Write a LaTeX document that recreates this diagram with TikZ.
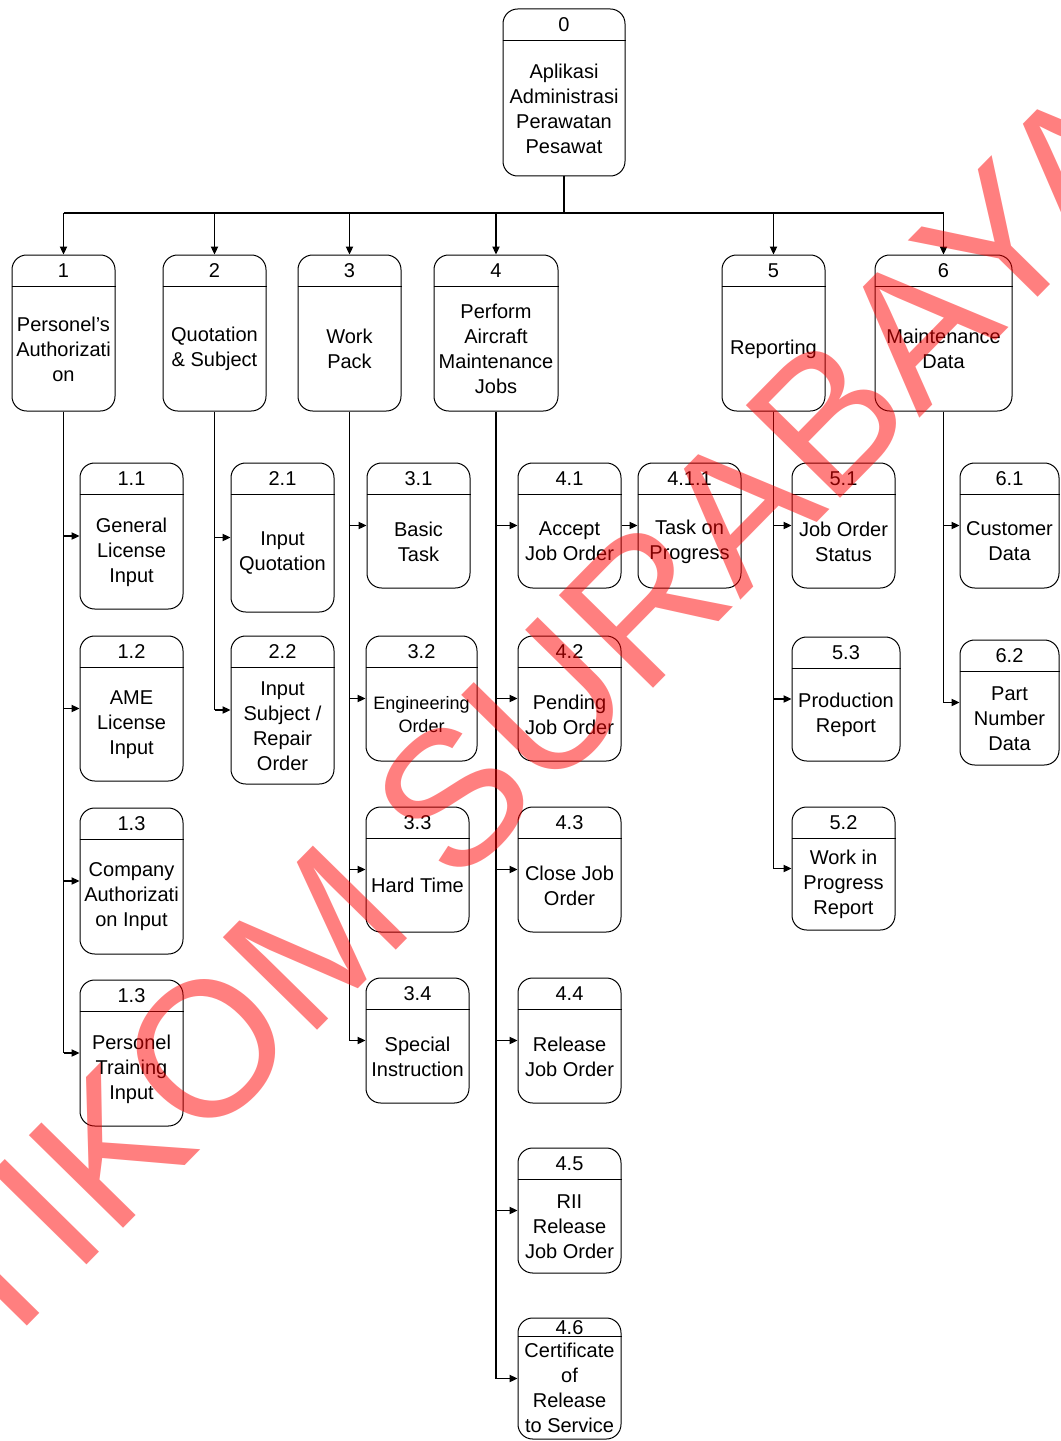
\documentclass[tikz,border=0pt]{standalone}
\usepackage{fontspec}
\setmainfont{Liberation Sans}
\usetikzlibrary{arrows.meta}

% process box: name, x1, y1, x2, y2, header height, number, label, extra label style
\newcommand\pbox[9]{%
  \node[pbx, minimum width={(#4-(#2))*0.75pt}, minimum height={(#5-(#3))*0.75pt}]
    (#1) at ({(#2+#4)/2},{(#3+#5)/2}) {};
  \draw[pbxline] ([yshift={-(#6)*0.75pt}]#1.north west) -- ([yshift={-(#6)*0.75pt}]#1.north east);
  \node[lbl] (#1n) at ({(#2+#4)/2},{#3+(#6)/2}) {#7};
  \node[lbl,#9] (#1t) at ({(#2+#4)/2},{(#3+#6+#5)/2}) {#8};
}

\tikzset{
  pbx/.style={draw, rectangle, rounded corners=11pt, inner sep=0pt, line width=0.75pt},
  pbxline/.style={line width=0.75pt},
  lbl/.style={inner sep=0pt, align=center, font=\fontsize{15pt}{18.75pt}\selectfont},
  small/.style={font=\fontsize{13.5pt}{17.25pt}\selectfont},
  wire/.style={line width=0.8pt},
  arr/.style={-{Triangle[length=6pt,width=5.5pt]}},
  wm/.style={inner sep=0pt, text=red, text opacity=0.5,
    font=\fontsize{144pt}{144pt}\selectfont}
}

\begin{document}
\begin{tikzpicture}[x=0.75pt,y=-0.75pt]
\useasboundingbox (0,0) rectangle (1060,1441);

% root and top level processes
\pbox{n0}{503}{9}{625}{176}{32}{0}{Aplikasi\\Administrasi\\Perawatan\\Pesawat}{}
\pbox{n1}{12}{255}{115}{411}{32}{1}{Personel’s\\Authorizati\\on}{}
\pbox{n2}{163}{255}{266}{411}{32}{2}{Quotation\\\& Subject}{}
\pbox{n3}{298}{255}{401}{411}{32}{3}{Work\\Pack}{}
\pbox{n4}{434}{255}{558}{411}{32}{4}{Perform\\Aircraft\\Maintenance\\Jobs}{}
\pbox{n5}{722}{255}{825}{411}{32}{5}{Reporting}{}
\pbox{n6}{875}{255}{1012}{411}{32}{6}{Maintenance\\Data}{}

% sub processes
\pbox{n11}{80}{463}{183}{609}{32}{1.1}{General\\License\\Input}{}
\pbox{n12}{80}{636}{183}{781}{32}{1.2}{AME\\License\\Input}{}
\pbox{n13}{80}{808}{183}{954}{32}{1.3}{Company\\Authorizati\\on Input}{}
\pbox{n14}{80}{980}{183}{1126}{32}{1.3}{Personel\\Training\\Input}{}

\pbox{n21}{231}{463}{334}{612}{32}{2.1}{Input\\Quotation}{}
\pbox{n22}{231}{636}{334}{784}{32}{2.2}{Input\\Subject /\\Repair\\Order}{}

\pbox{n31}{367}{463}{470}{588}{32}{3.1}{Basic\\Task}{}
\pbox{n32}{366}{636}{477}{761}{32}{3.2}{Engineering\\Order}{small}
\pbox{n33}{366}{807}{469}{932}{32}{3.3}{Hard Time}{}
\pbox{n34}{366}{978}{469}{1103}{32}{3.4}{Special\\Instruction}{}

\pbox{n41}{518}{463}{621}{588}{32}{4.1}{Accept\\Job Order}{}
\pbox{n411}{638}{463}{741}{588}{32}{4.1.1}{Task on\\Progress}{}
\pbox{n42}{518}{636}{621}{761}{32}{4.2}{Pending\\Job Order}{}
\pbox{n43}{518}{807}{621}{932}{32}{4.3}{Close Job\\Order}{}
\pbox{n44}{518}{978}{621}{1103}{32}{4.4}{Release\\Job Order}{}
\pbox{n45}{518}{1148}{621}{1273}{32}{4.5}{RII\\Release\\Job Order}{}
\pbox{n46}{518}{1318}{621}{1439}{19}{4.6}{Certificate\\of\\Release\\to Service}{}

\pbox{n51}{792}{463}{895}{588}{32}{5.1}{Job Order\\Status}{}
\pbox{n53}{792}{637}{900}{761}{32}{5.3}{Production\\Report}{}
\pbox{n52}{792}{807}{895}{930}{32}{5.2}{Work in\\Progress\\Report}{}

\pbox{n61}{960}{463}{1059}{588}{32}{6.1}{Customer\\Data}{}
\pbox{n62}{960}{640}{1059}{765}{32}{6.2}{Part\\Number\\Data}{}

% distribution bus from the root
\coordinate (bus) at (0,213);
\draw[wire] (n0.south) -- (n0.south |- bus);
\draw[wire] (n1.north |- bus) -- (n6.north |- bus);
\foreach \k in {1,...,6}
  \draw[wire,arr] (n\k.north |- bus) -- (n\k.north);

% column spines
\draw[wire] (n1.south) -- (n1.south |- n14.west);
\draw[wire] (n2.south) -- (n2.south |- n22.west);
\draw[wire] (n3.south) -- (n3.south |- n34.west);
\draw[wire] (n4.south) -- (n4.south |- n46.west);
\draw[wire] (n5.south) -- (n5.south |- n52.west);
\draw[wire] (n6.south) -- (n6.south |- n62.west);

% branches into the sub processes
\foreach \c in {11,12,13,14} \draw[wire,arr] (n1.south |- n\c.west) -- (n\c.west);
\foreach \c in {21,22} \draw[wire,arr] (n2.south |- n\c.west) -- (n\c.west);
\foreach \c in {31,32,33,34} \draw[wire,arr] (n3.south |- n\c.west) -- (n\c.west);
\foreach \c in {41,42,43,44,45,46} \draw[wire,arr] (n4.south |- n\c.west) -- (n\c.west);
\foreach \c in {51,53,52} \draw[wire,arr] (n5.south |- n\c.west) -- (n\c.west);
\foreach \c in {61,62} \draw[wire,arr] (n6.south |- n\c.west) -- (n\c.west);
\draw[wire,arr] (n41.east) -- (n411.west);

% watermark
\begin{scope}
  \clip (0,0) rectangle (1060,1441);
  \node[wm, rotate=45.5, anchor=base west] (mark) at (-97.4,1453) {STIKOM SURABAYA};
\end{scope}
\end{tikzpicture}
\end{document}
